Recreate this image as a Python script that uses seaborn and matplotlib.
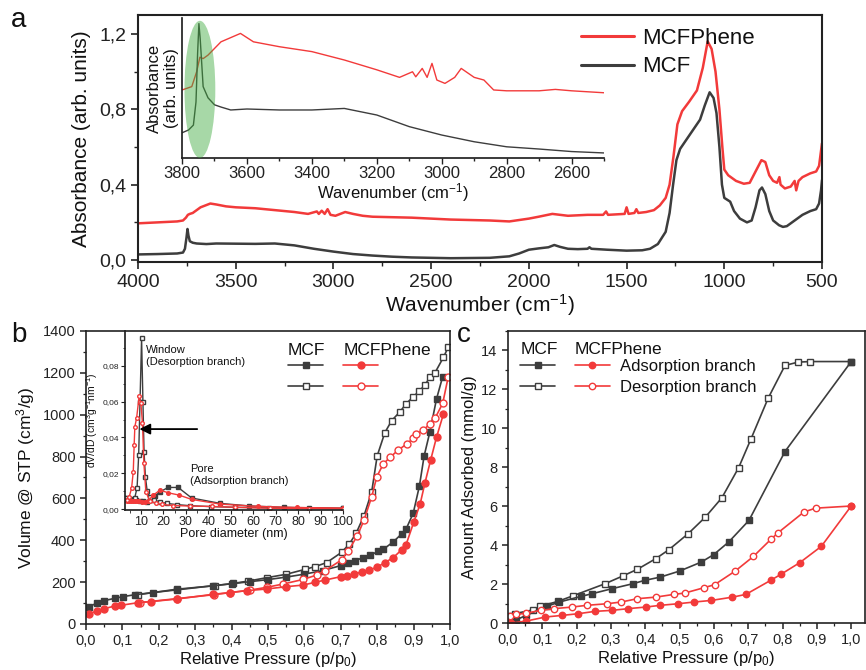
import matplotlib
matplotlib.use("Agg")
import matplotlib.pyplot as plt
from matplotlib.patches import Ellipse
from matplotlib.lines import Line2D
from matplotlib.ticker import MultipleLocator, FuncFormatter, NullLocator
import pandas as pd
import seaborn as sns

# --- FTIR spectra (panel a) ---
wn_mcf = [4000, 3900, 3800, 3770, 3760, 3752, 3747, 3742, 3735, 3720, 3700, 3650, 3600, 3500,
          3400, 3300, 3200, 3100, 3000, 2900, 2800, 2700, 2600, 2400, 2200, 2100, 2050, 2000,
          1950, 1900, 1870, 1840, 1800, 1750, 1700, 1690, 1680, 1600, 1500, 1420, 1380, 1340,
          1300, 1280, 1262, 1245, 1226, 1180, 1124, 1100, 1075, 1055, 1040, 1025, 1012, 1000,
          985, 970, 950, 920, 884, 860, 840, 820, 807, 790, 770, 750, 720, 700, 680, 640, 600,
          560, 530, 515, 505, 500]
abs_mcf = [0.030, 0.032, 0.035, 0.040, 0.060, 0.120, 0.165, 0.130, 0.100, 0.092, 0.088, 0.085,
           0.088, 0.087, 0.086, 0.088, 0.078, 0.060, 0.045, 0.032, 0.024, 0.018, 0.014, 0.010,
           0.012, 0.020, 0.035, 0.055, 0.062, 0.068, 0.080, 0.070, 0.060, 0.058, 0.060, 0.068,
           0.060, 0.055, 0.050, 0.052, 0.060, 0.085, 0.150, 0.250, 0.400, 0.530, 0.590, 0.660,
           0.745, 0.820, 0.890, 0.860, 0.780, 0.600, 0.400, 0.330, 0.320, 0.310, 0.260, 0.220,
           0.200, 0.210, 0.280, 0.370, 0.385, 0.350, 0.260, 0.210, 0.185, 0.176, 0.180, 0.210,
           0.240, 0.260, 0.270, 0.300, 0.370, 0.425]

wn_phene = [4000, 3900, 3800, 3770, 3755, 3745, 3735, 3720, 3680, 3630, 3600, 3550, 3500, 3400,
            3300, 3200, 3130, 3085, 3075, 3060, 3045, 3030, 3015, 2990, 2940, 2900, 2850, 2800,
            2600, 2400, 2200, 2100, 2000, 1950, 1880, 1800, 1700, 1620, 1605, 1595, 1510, 1500,
            1490, 1460, 1450, 1440, 1400, 1360, 1330, 1300, 1280, 1260, 1240, 1216, 1180, 1140,
            1110, 1085, 1065, 1045, 1025, 1010, 1000, 980, 940, 900, 870, 840, 810, 790, 770,
            750, 730, 718, 712, 690, 660, 640, 632, 620, 600, 560, 530, 515, 505, 500]
abs_phene = [0.195, 0.200, 0.205, 0.210, 0.225, 0.240, 0.245, 0.250, 0.280, 0.300, 0.295, 0.285,
             0.280, 0.275, 0.265, 0.255, 0.245, 0.258, 0.245, 0.262, 0.245, 0.270, 0.240, 0.235,
             0.255, 0.245, 0.235, 0.230, 0.225, 0.215, 0.210, 0.205, 0.220, 0.230, 0.245, 0.235,
             0.240, 0.240, 0.258, 0.240, 0.245, 0.280, 0.245, 0.250, 0.270, 0.250, 0.255, 0.265,
             0.290, 0.330, 0.400, 0.550, 0.720, 0.790, 0.840, 0.900, 1.020, 1.160, 1.120, 1.000,
             0.800, 0.600, 0.480, 0.450, 0.420, 0.405, 0.410, 0.470, 0.530, 0.520, 0.450, 0.420,
             0.410, 0.440, 0.400, 0.380, 0.390, 0.420, 0.370, 0.420, 0.440, 0.460, 0.470, 0.500,
             0.580, 0.620]

# inset a (3800-2500 cm-1, arbitrary units)
wn_in_mcf = [3800, 3780, 3765, 3757, 3752, 3748, 3744, 3740, 3735, 3720, 3700, 3680, 3650, 3600,
             3500, 3400, 3300, 3200, 3100, 3000, 2900, 2800, 2700, 2600, 2500]
in_mcf = [0.18, 0.20, 0.235, 0.40, 0.75, 0.96, 0.85, 0.70, 0.51, 0.43, 0.38, 0.364, 0.343, 0.35,
          0.343, 0.343, 0.354, 0.307, 0.224, 0.164, 0.116, 0.080, 0.064, 0.046, 0.036]
wn_in_phene = [3800, 3770, 3755, 3745, 3735, 3720, 3680, 3620, 3580, 3500, 3400, 3300, 3200,
               3130, 3090, 3080, 3060, 3045, 3030, 3015, 2990, 2960, 2940, 2900, 2870, 2840,
               2800, 2700, 2650, 2600, 2500]
in_phene = [0.486, 0.51, 0.616, 0.72, 0.71, 0.735, 0.83, 0.89, 0.83, 0.795, 0.76, 0.70, 0.63,
            0.576, 0.616, 0.58, 0.64, 0.576, 0.676, 0.557, 0.533, 0.576, 0.64, 0.576, 0.557,
            0.486, 0.48, 0.48, 0.49, 0.48, 0.466]

# --- N2 isotherms (panel b), cm3/g ---
p_mcf_ads = [0.009, 0.029, 0.049, 0.080, 0.103, 0.135, 0.183, 0.25, 0.35, 0.40, 0.45, 0.50, 0.55,
             0.60, 0.65, 0.700, 0.721, 0.739, 0.760, 0.780, 0.803, 0.817, 0.844, 0.867, 0.879,
             0.899, 0.916, 0.929, 0.945, 0.963, 0.980]
v_mcf_ads = [83, 99, 111, 123, 131, 140, 150, 163, 183, 192, 202, 212, 224, 238, 255, 279, 290,
             301, 317, 328, 347, 357, 392, 430, 452, 529, 659, 803, 919, 1075, 1182]
p_mcf_des = [0.144, 0.249, 0.354, 0.405, 0.446, 0.496, 0.549, 0.602, 0.629, 0.661, 0.702, 0.723,
             0.742, 0.764, 0.785, 0.800, 0.821, 0.840, 0.863, 0.879, 0.899, 0.916, 0.931, 0.945,
             0.959, 0.982, 0.995]
v_mcf_des = [140, 166, 183, 194, 205, 221, 237, 261, 274, 293, 342, 381, 433, 518, 632, 803, 914,
             972, 1015, 1051, 1086, 1113, 1142, 1179, 1201, 1274, 1322]
p_phene_ads = [0.009, 0.029, 0.049, 0.080, 0.095, 0.144, 0.178, 0.249, 0.350, 0.396, 0.441, 0.496,
               0.549, 0.597, 0.629, 0.657, 0.700, 0.716, 0.736, 0.757, 0.778, 0.799, 0.821, 0.844,
               0.867, 0.879, 0.901, 0.918, 0.931, 0.947, 0.963, 0.982]
v_phene_ads = [48, 62, 73, 86, 89, 102, 107, 119, 142, 150, 159, 167, 178, 186, 199, 210, 226, 231,
               239, 247, 258, 271, 293, 317, 354, 377, 489, 573, 672, 784, 892, 1003]
p_phene_des = [0.148, 0.249, 0.352, 0.396, 0.451, 0.496, 0.542, 0.597, 0.634, 0.657, 0.702, 0.721,
               0.745, 0.764, 0.785, 0.799, 0.817, 0.835, 0.858, 0.881, 0.899, 0.908, 0.927, 0.945,
               0.959, 0.980, 0.995]
v_phene_des = [102, 121, 140, 150, 162, 175, 191, 213, 234, 255, 306, 350, 420, 497, 608, 704, 765,
               796, 831, 860, 887, 908, 927, 956, 983, 1054, 1179]

# inset b: pore size distributions
d_mcf_win = [3.2, 4.5, 6.0, 7.2, 8.3, 9.0, 9.6, 10.3, 10.9, 11.4, 12.0, 12.8, 14.0, 16.0, 18.5,
             21.5, 26.0, 32.0, 41.0, 52.0, 67.0, 85.0, 100.0]
dv_mcf_win = [0.0062, 0.0058, 0.0052, 0.0060, 0.0120, 0.0300, 0.0600, 0.0955, 0.0600, 0.0320,
              0.0180, 0.0100, 0.0068, 0.0050, 0.0040, 0.0032, 0.0025, 0.0019, 0.0014, 0.0010,
              0.0007, 0.0005, 0.0004]
d_phene_win = [3.6, 4.8, 5.85, 6.6, 7.0, 7.3, 8.1, 9.2, 10.0, 10.7, 11.3, 12.2, 14.0, 16.5, 19.2,
               24.4, 31.9, 41.5, 52.0, 67.6, 85.0, 100.0]
dv_phene_win = [0.0050, 0.0069, 0.0117, 0.0210, 0.0360, 0.0460, 0.0510, 0.0630, 0.0590, 0.0480,
                0.0260, 0.0097, 0.0045, 0.0033, 0.0026, 0.0020, 0.0017, 0.0015, 0.0010, 0.0005,
                0.0003, 0.0002]
d_mcf_pore = [3.0, 4.5, 6.0, 7.6, 9.5, 11.0, 12.5, 14.5, 16.2, 18.5, 22.2, 26.6, 32.6, 45.3, 58.0,
              73.5, 100.0]
dv_mcf_pore = [0.0060, 0.0058, 0.0055, 0.0050, 0.0046, 0.0043, 0.0042, 0.0052, 0.0072, 0.0097,
               0.0121, 0.0121, 0.0062, 0.0032, 0.0018, 0.0010, 0.0004]
d_phene_pore = [3.0, 3.8, 4.6, 5.4, 6.3, 7.2, 8.2, 9.3, 10.5, 11.8, 13.3, 15.5, 18.5, 22.2, 27.1,
                32.6, 45.3, 62.0, 79.5, 100.0]
dv_phene_pore = [0.0052, 0.0048, 0.0046, 0.0045, 0.0044, 0.0044, 0.0043, 0.0043, 0.0042, 0.0042,
                 0.0048, 0.0078, 0.0106, 0.0091, 0.0078, 0.0054, 0.0028, 0.0015, 0.0009, 0.0006]

# --- isotherms (panel c), mmol/g ---
pc_mcf_ads = [0.005, 0.024, 0.053, 0.113, 0.150, 0.213, 0.246, 0.302, 0.364, 0.398, 0.444, 0.500,
              0.563, 0.599, 0.643, 0.702, 0.807, 1.000]
nc_mcf_ads = [0.05, 0.17, 0.39, 0.86, 1.08, 1.37, 1.51, 1.76, 2.02, 2.19, 2.36, 2.67, 3.13, 3.51,
              4.16, 5.27, 8.81, 13.43]
pc_mcf_des = [0.005, 0.019, 0.074, 0.094, 0.145, 0.188, 0.283, 0.336, 0.377, 0.430, 0.469, 0.525,
              0.575, 0.623, 0.672, 0.708, 0.758, 0.807, 0.845, 0.881, 1.000]
nc_mcf_des = [0.34, 0.48, 0.68, 0.86, 1.11, 1.39, 2.02, 2.43, 2.76, 3.30, 3.77, 4.59, 5.44, 6.43,
              7.98, 9.46, 11.55, 13.23, 13.40, 13.43, 13.43]
pc_phene_ads = [0.010, 0.053, 0.109, 0.157, 0.205, 0.254, 0.302, 0.351, 0.401, 0.444, 0.495, 0.543,
                0.592, 0.654, 0.693, 0.765, 0.795, 0.850, 0.913, 1.000]
nc_phene_ads = [0.00, 0.10, 0.31, 0.39, 0.48, 0.60, 0.65, 0.74, 0.82, 0.91, 0.99, 1.08, 1.16, 1.33,
                1.47, 2.19, 2.50, 3.10, 3.94, 6.01]
pc_phene_des = [0.005, 0.024, 0.053, 0.097, 0.135, 0.186, 0.230, 0.288, 0.330, 0.377, 0.430, 0.483,
                0.515, 0.570, 0.602, 0.662, 0.715, 0.766, 0.787, 0.862, 0.896, 1.000]
nc_phene_des = [0.38, 0.44, 0.51, 0.65, 0.74, 0.82, 0.91, 0.99, 1.08, 1.25, 1.33, 1.47, 1.54, 1.81,
                1.97, 2.67, 3.42, 4.30, 4.64, 5.70, 5.90, 6.01]

GREY = '#3d3d3d'
RED = '#f23a3a'

sns.set_theme(style="ticks")
plt.rcParams['font.family'] = ['Liberation Sans', 'DejaVu Sans']
plt.rcParams['mathtext.fontset'] = 'custom'
plt.rcParams['mathtext.rm'] = 'Liberation Sans'
plt.rcParams['mathtext.it'] = 'Liberation Sans:italic'
plt.rcParams['axes.edgecolor'] = '#222222'
plt.rcParams['text.color'] = '#111111'
plt.rcParams['axes.labelcolor'] = '#111111'
plt.rcParams['xtick.color'] = '#222222'
plt.rcParams['ytick.color'] = '#222222'


def comma(fmt):
    return FuncFormatter(lambda v, p: format(v, fmt).replace('.', ','))


def draw(ax, x, y, color, marker=None, filled=True, ms=5, lw=1.2):
    df = pd.DataFrame({'x': x, 'y': y})
    kws = dict(color=color, lw=lw)
    if marker:
        kws.update(marker=marker, markersize=ms, markeredgecolor=color, markeredgewidth=1.0,
                   markerfacecolor=color if filled else 'white')
    sns.lineplot(data=df, x='x', y='y', ax=ax, sort=False, estimator=None, **kws)


fig = plt.figure(figsize=(8.66, 6.70), dpi=100)

# ---------------- panel a ----------------
ax_a = fig.add_axes([0.1594, 0.609, 0.7898, 0.3686])
draw(ax_a, wn_phene, abs_phene, RED, lw=1.8)
draw(ax_a, wn_mcf, abs_mcf, GREY, lw=1.8)
ax_a.set_xlim(4000, 500)
ax_a.set_ylim(-0.01, 1.30)
ax_a.xaxis.set_major_locator(MultipleLocator(500))
ax_a.xaxis.set_minor_locator(MultipleLocator(250))
ax_a.yaxis.set_major_locator(MultipleLocator(0.4))
ax_a.yaxis.set_minor_locator(MultipleLocator(0.2))
ax_a.yaxis.set_major_formatter(comma('.1f'))
ax_a.tick_params(labelsize=14, width=1.2, length=5)
ax_a.tick_params(which='minor', width=1.0, length=3)
ax_a.set_xlabel('Wavenumber (cm$^{-1}$)', fontsize=15, labelpad=1)
ax_a.set_ylabel('Absorbance (arb. units)', fontsize=15, labelpad=6)
for s in ax_a.spines.values():
    s.set_linewidth(1.5)
ax_a.legend(handles=[Line2D([], [], color=RED, lw=2.2), Line2D([], [], color=GREY, lw=2.2)],
            labels=['MCFPhene', 'MCF'], loc='upper left', bbox_to_anchor=(0.618, 1.03),
            frameon=False, fontsize=16, handlelength=2.4, handletextpad=0.35,
            labelspacing=0.35)

ax_ai = fig.add_axes([0.2102, 0.7642, 0.4873, 0.2089])
ax_ai.set_facecolor('none')
draw(ax_ai, wn_in_phene, in_phene, RED, lw=1.0)
draw(ax_ai, wn_in_mcf, in_mcf, GREY, lw=1.0)
ax_ai.add_patch(Ellipse((3745, 0.49), width=95, height=0.98, facecolor='#3caa3c', alpha=0.45,
                        edgecolor='none', zorder=5))
ax_ai.set_xlim(3800, 2500)
ax_ai.set_ylim(0, 1.0)
ax_ai.spines['top'].set_visible(False)
ax_ai.spines['right'].set_visible(False)
ax_ai.yaxis.set_major_locator(NullLocator())
ax_ai.xaxis.set_major_locator(MultipleLocator(200))
ax_ai.xaxis.set_minor_locator(MultipleLocator(100))
ax_ai.tick_params(labelsize=12, width=1.0, length=4, pad=2)
ax_ai.tick_params(which='minor', length=2.5)
ax_ai.set_xlabel('Wavenumber (cm$^{-1}$)', fontsize=12, labelpad=0)
ax_ai.set_ylabel('Absorbance\n(arb. units)', fontsize=12, labelpad=2)

# ---------------- panel b ----------------
ax_b = fig.add_axes([0.0993, 0.0687, 0.4203, 0.4373])
draw(ax_b, p_mcf_des, v_mcf_des, GREY, 's', filled=False, ms=5)
draw(ax_b, p_mcf_ads, v_mcf_ads, GREY, 's', filled=True, ms=5)
draw(ax_b, p_phene_des, v_phene_des, RED, 'o', filled=False, ms=5)
draw(ax_b, p_phene_ads, v_phene_ads, RED, 'o', filled=True, ms=5)
ax_b.set_xlim(0, 1.0)
ax_b.set_ylim(0, 1400)
ax_b.xaxis.set_major_locator(MultipleLocator(0.1))
ax_b.xaxis.set_minor_locator(MultipleLocator(0.05))
ax_b.yaxis.set_major_locator(MultipleLocator(200))
ax_b.yaxis.set_minor_locator(MultipleLocator(100))
ax_b.xaxis.set_major_formatter(comma('.1f'))
ax_b.tick_params(labelsize=10.5, width=1.1, length=4)
ax_b.tick_params(which='minor', width=0.9, length=2.5)
ax_b.set_xlabel('Relative Pressure (p/p$_0$)', fontsize=12, labelpad=1)
ax_b.set_ylabel('Volume @ STP (cm$^3$/g)', fontsize=12.5)
for s in ax_b.spines.values():
    s.set_linewidth(1.2)

hb = dict(lw=1.2, markersize=5, markeredgewidth=1.0)
lg1 = ax_b.legend(handles=[Line2D([], [], color=GREY, marker='s', mfc=GREY, mec=GREY, **hb),
                           Line2D([], [], color=GREY, marker='s', mfc='white', mec=GREY, **hb)],
                  labels=['', ''], loc='upper left', bbox_to_anchor=(0.555, 0.905),
                  frameon=False, fontsize=12, handlelength=2.1, handletextpad=0,
                  labelspacing=0.35, borderpad=0, borderaxespad=0)
ax_b.add_artist(lg1)
ax_b.legend(handles=[Line2D([], [], color=RED, marker='o', mfc=RED, mec=RED, **hb),
                     Line2D([], [], color=RED, marker='o', mfc='white', mec=RED, **hb)],
            labels=['', ''], loc='upper left', bbox_to_anchor=(0.707, 0.905),
            frameon=False, fontsize=12, handlelength=2.1, handletextpad=0,
            labelspacing=0.35, borderpad=0, borderaxespad=0)
ax_b.text(0.555, 0.935, 'MCF', transform=ax_b.transAxes, fontsize=12.5, va='center')
ax_b.text(0.707, 0.935, 'MCFPhene', transform=ax_b.transAxes, fontsize=12.5, va='center')

ax_bi = fig.add_axes([0.1443, 0.2388, 0.2518, 0.2672])
ax_bi.set_facecolor('none')
draw(ax_bi, d_mcf_pore, dv_mcf_pore, GREY, 's', filled=True, ms=2.6, lw=1.0)
draw(ax_bi, d_mcf_win, dv_mcf_win, GREY, 's', filled=False, ms=2.6, lw=1.0)
draw(ax_bi, d_phene_pore, dv_phene_pore, RED, 'o', filled=True, ms=2.6, lw=1.0)
draw(ax_bi, d_phene_win, dv_phene_win, RED, 'o', filled=False, ms=2.6, lw=1.0)
ax_bi.set_xlim(2.9, 100)
ax_bi.set_ylim(-0.0005, 0.0995)
ax_bi.spines['top'].set_visible(False)
ax_bi.spines['right'].set_visible(False)
ax_bi.xaxis.set_major_locator(MultipleLocator(10))
ax_bi.xaxis.set_minor_locator(MultipleLocator(5))
ax_bi.yaxis.set_major_locator(MultipleLocator(0.02))
ax_bi.yaxis.set_minor_locator(MultipleLocator(0.01))
ax_bi.yaxis.set_major_formatter(comma('.2f'))
ax_bi.tick_params(axis='x', labelsize=9, width=0.8, length=3, pad=1)
ax_bi.tick_params(axis='y', labelsize=6, width=0.8, length=3, pad=1)
ax_bi.tick_params(which='minor', width=0.6, length=1.8)
ax_bi.set_xlabel('Pore diameter (nm)', fontsize=9, labelpad=0)
ax_bi.set_ylabel('dV/dD (cm$^3$g$^{-1}$nm$^{-1}$)', fontsize=7.5, labelpad=2)
ax_bi.annotate('', xy=(8.1, 0.0447), xytext=(36.3, 0.0447),
               arrowprops=dict(arrowstyle='-|>', color='black', lw=1.3, mutation_scale=16))
ax_bi.text(12.3, 0.0915, 'Window\n(Desorption branch)', fontsize=8, va='top', linespacing=1.2)
ax_bi.text(32.0, 0.0250, 'Pore\n(Adsorption branch)', fontsize=8, va='top', linespacing=1.2)

# ---------------- panel c ----------------
ax_c = fig.add_axes([0.5866, 0.0701, 0.4122, 0.4359])
draw(ax_c, pc_mcf_des, nc_mcf_des, GREY, 's', filled=False, ms=4.6)
draw(ax_c, pc_mcf_ads, nc_mcf_ads, GREY, 's', filled=True, ms=4.6)
draw(ax_c, pc_phene_des, nc_phene_des, RED, 'o', filled=False, ms=4.6)
draw(ax_c, pc_phene_ads, nc_phene_ads, RED, 'o', filled=True, ms=4.6)
ax_c.set_xlim(0, 1.04)
ax_c.set_ylim(0, 15)
ax_c.xaxis.set_major_locator(MultipleLocator(0.1))
ax_c.xaxis.set_minor_locator(MultipleLocator(0.05))
ax_c.yaxis.set_major_locator(MultipleLocator(2))
ax_c.yaxis.set_minor_locator(MultipleLocator(1))
ax_c.xaxis.set_major_formatter(comma('.1f'))
ax_c.tick_params(labelsize=10.5, width=1.1, length=4)
ax_c.tick_params(which='minor', width=0.9, length=2.5)
ax_c.set_xlabel('Relative Pressure (p/p$_0$)', fontsize=12, labelpad=1)
ax_c.set_ylabel('Amount Adsorbed (mmol/g)', fontsize=12, labelpad=3)
for s in ax_c.spines.values():
    s.set_linewidth(1.2)

hc = dict(lw=1.2, markersize=4.6, markeredgewidth=1.0)
lc1 = ax_c.legend(handles=[Line2D([], [], color=GREY, marker='s', mfc=GREY, mec=GREY, **hc),
                           Line2D([], [], color=GREY, marker='s', mfc='white', mec=GREY, **hc)],
                  labels=['', ''], loc='upper left', bbox_to_anchor=(0.035, 0.905),
                  frameon=False, fontsize=12, handlelength=2.1, handletextpad=0,
                  labelspacing=0.35, borderpad=0, borderaxespad=0)
ax_c.add_artist(lc1)
ax_c.legend(handles=[Line2D([], [], color=RED, marker='o', mfc=RED, mec=RED, **hc),
                     Line2D([], [], color=RED, marker='o', mfc='white', mec=RED, **hc)],
            labels=['Adsorption branch', 'Desorption branch'], loc='upper left',
            bbox_to_anchor=(0.187, 0.905), frameon=False, fontsize=12, handlelength=2.1,
            handletextpad=0.6, labelspacing=0.35, borderpad=0, borderaxespad=0)
ax_c.text(0.035, 0.935, 'MCF', transform=ax_c.transAxes, fontsize=12.5, va='center')
ax_c.text(0.187, 0.935, 'MCFPhene', transform=ax_c.transAxes, fontsize=12.5, va='center')

# panel letters
fig.text(0.013, 0.97, 'a', fontsize=20, va='center')
fig.text(0.013, 0.5, 'b', fontsize=20, va='center')
fig.text(0.528, 0.5, 'c', fontsize=20, va='center')

fig.savefig('out.png', dpi=100)
